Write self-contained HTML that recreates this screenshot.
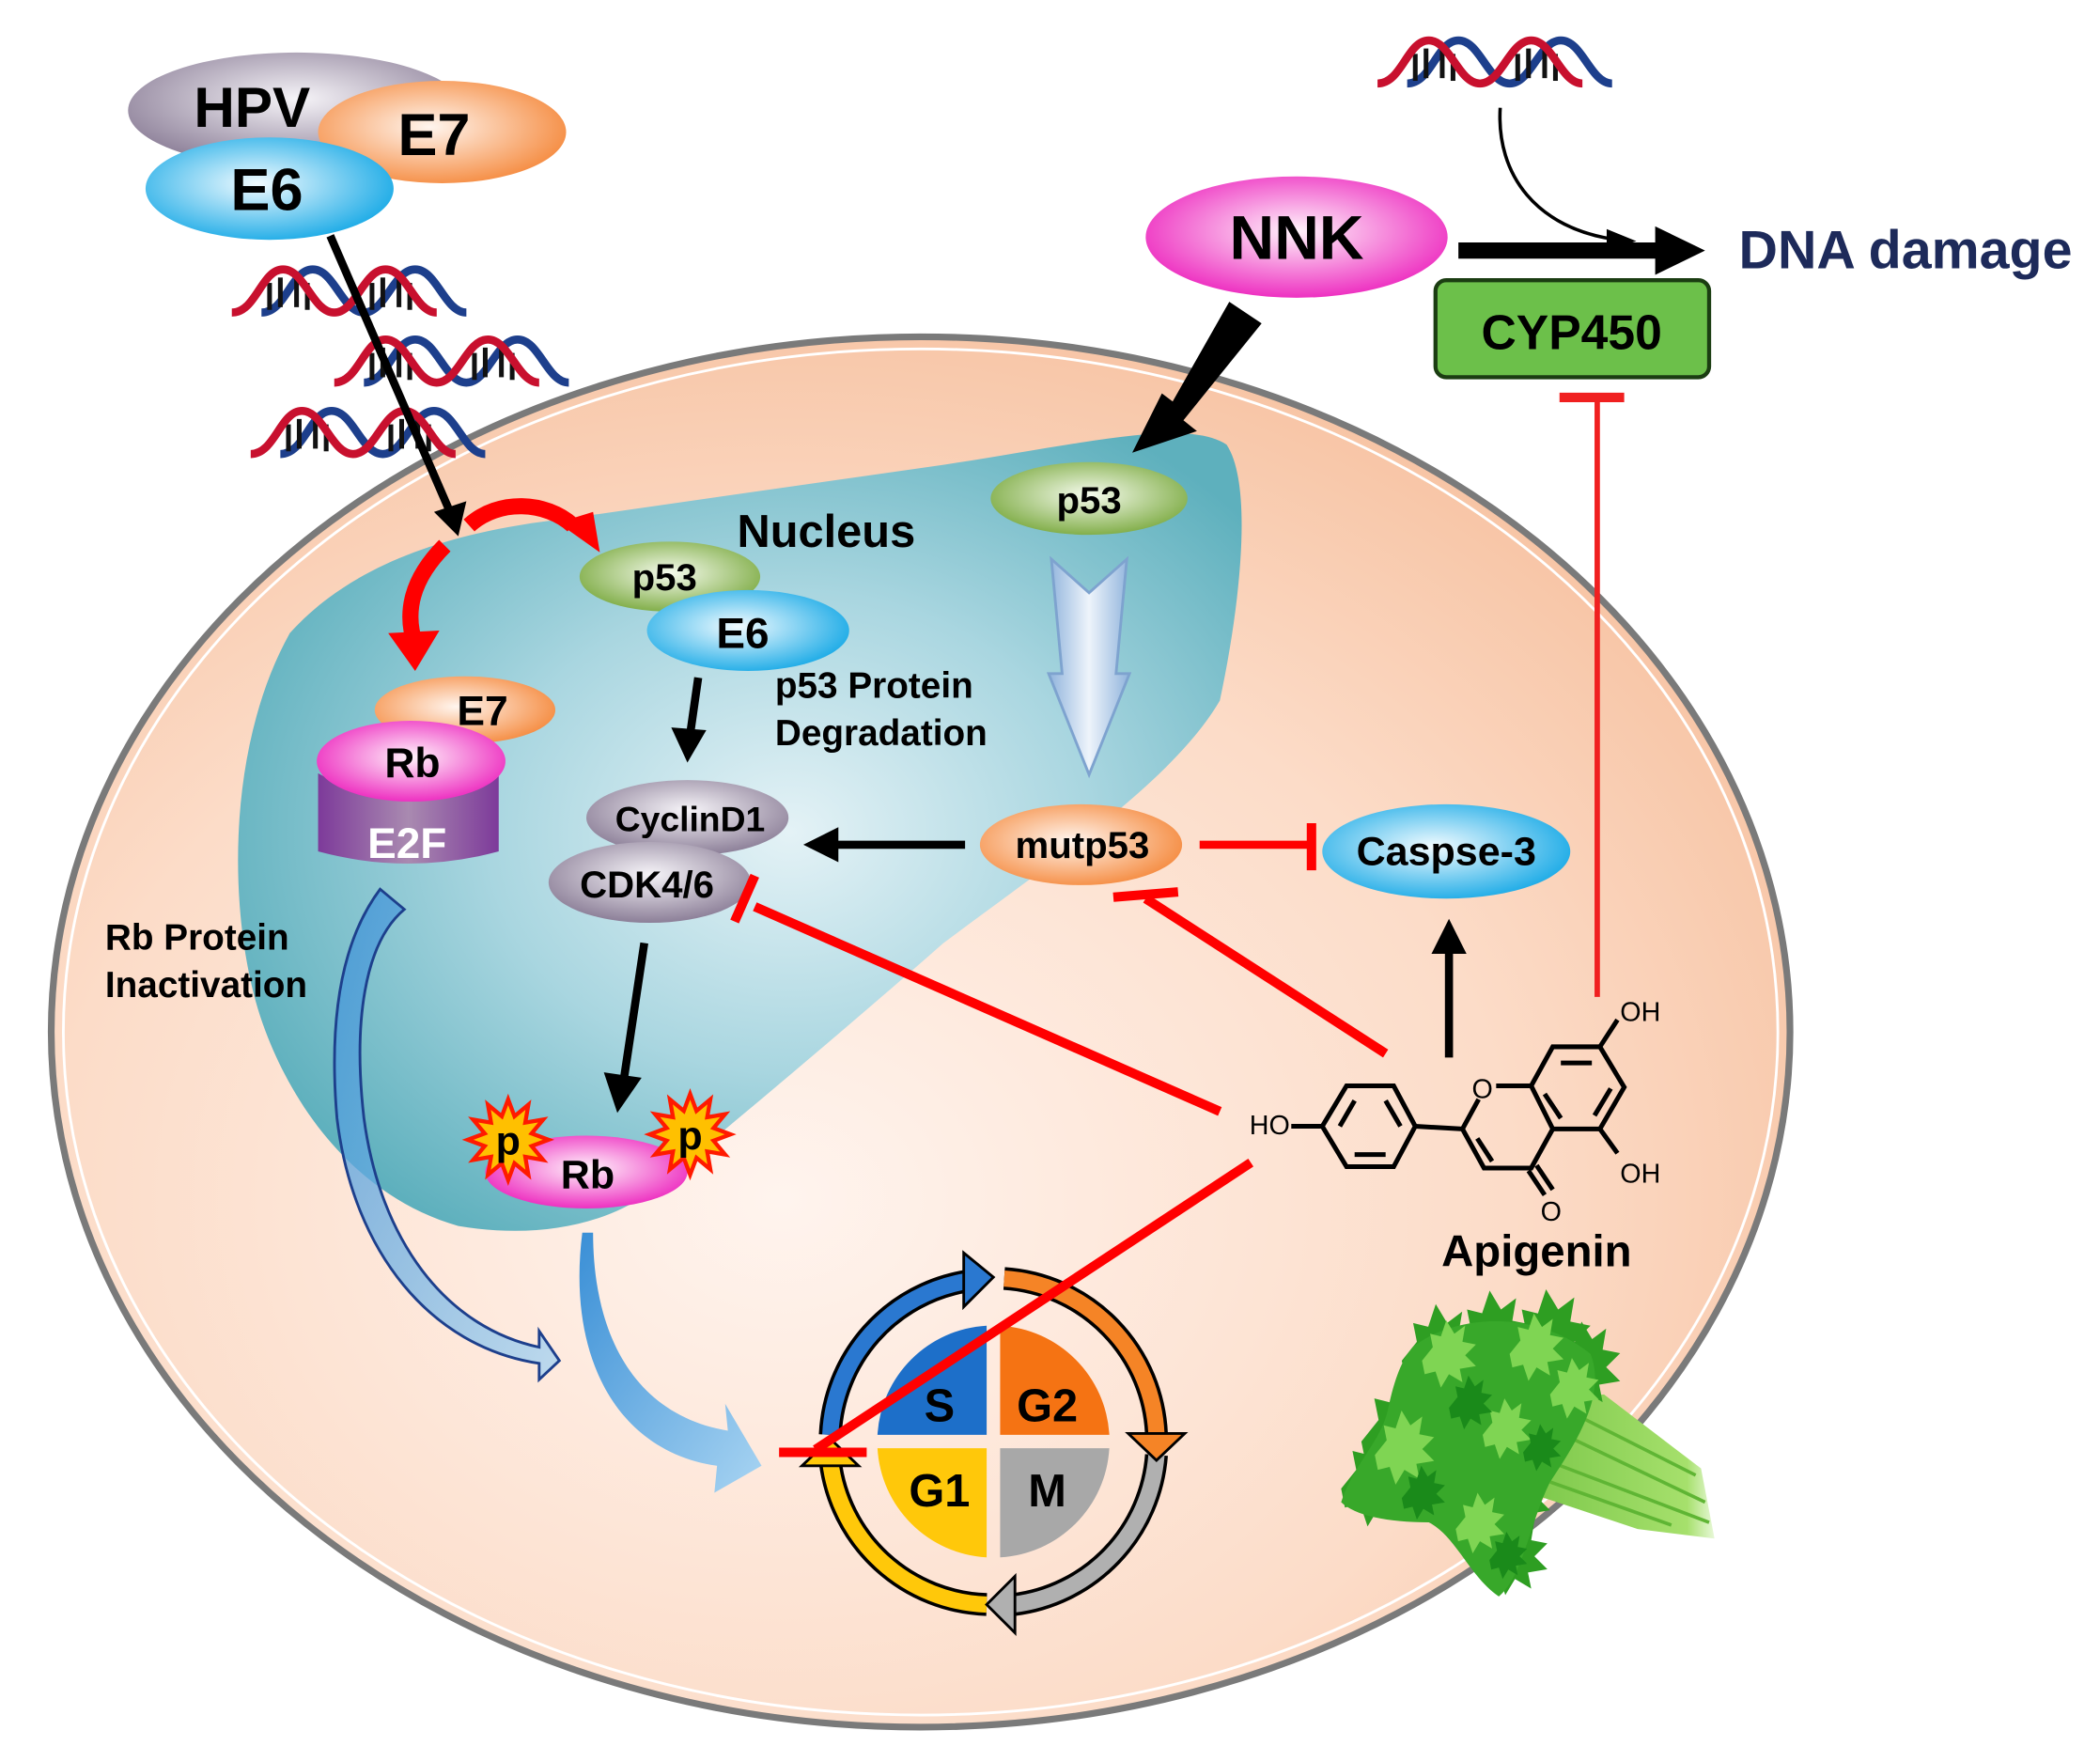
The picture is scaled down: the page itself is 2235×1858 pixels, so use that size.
<!DOCTYPE html>
<html><head><meta charset="utf-8"><style>
html,body{margin:0;padding:0;background:#fff;}
svg{display:block;}
text{font-family:"Liberation Sans",Arial,sans-serif;font-weight:bold;}
</style></head><body>
<svg width="2235" height="1858" viewBox="0 0 1558 1296" preserveAspectRatio="none" xmlns="http://www.w3.org/2000/svg">
<defs>
<radialGradient id="cell" cx="0.42" cy="0.62" r="0.7">
<stop offset="0" stop-color="#fff4ee"/><stop offset="0.6" stop-color="#fcdcc8"/><stop offset="1" stop-color="#f6bf9d"/></radialGradient>
<radialGradient id="nuc" cx="0.55" cy="0.5" r="0.6">
<stop offset="0" stop-color="#e4f2f6"/><stop offset="0.5" stop-color="#a9d6e0"/><stop offset="1" stop-color="#5eb0bd"/></radialGradient>
<radialGradient id="gpur" cx="0.5" cy="0.4" r="0.6"><stop offset="0" stop-color="#f6f4f8"/><stop offset="1" stop-color="#8c7f98"/></radialGradient>
<radialGradient id="gora" cx="0.45" cy="0.45" r="0.6"><stop offset="0" stop-color="#fff5ee"/><stop offset="1" stop-color="#f58a3e"/></radialGradient>
<radialGradient id="gcya" cx="0.45" cy="0.45" r="0.6"><stop offset="0" stop-color="#f2fbff"/><stop offset="1" stop-color="#17a9e6"/></radialGradient>
<radialGradient id="ggre" cx="0.5" cy="0.45" r="0.6"><stop offset="0" stop-color="#f6fbee"/><stop offset="1" stop-color="#78a83c"/></radialGradient>
<radialGradient id="gmag" cx="0.5" cy="0.45" r="0.6"><stop offset="0" stop-color="#fff4fb"/><stop offset="1" stop-color="#ec1fbc"/></radialGradient>
<linearGradient id="gcyl" x1="0" x2="1"><stop offset="0" stop-color="#7d3a9a"/><stop offset="0.5" stop-color="#a98ab0"/><stop offset="1" stop-color="#7d3a9a"/></linearGradient>
<linearGradient id="gblue" x1="0" y1="0" x2="1" y2="1"><stop offset="0" stop-color="#3a8fd6"/><stop offset="1" stop-color="#a8d4f2"/></linearGradient>
<linearGradient id="gdown" x1="0" x2="1"><stop offset="0" stop-color="#8fb3dc"/><stop offset="0.5" stop-color="#eef4fb"/><stop offset="1" stop-color="#8fb3dc"/></linearGradient>
<linearGradient id="gstalk" x1="0" y1="0" x2="1" y2="0"><stop offset="0" stop-color="#7cc84a"/><stop offset="0.85" stop-color="#a6e06c"/><stop offset="1" stop-color="#e8f8d8"/></linearGradient>
<g id="dna">
<path d="M0,34 C18,34 22,2 38,2 C54,2 60,34 76,34 C92,34 98,2 114,2 C130,2 136,34 152,34" fill="none" stroke="#1d3f8c" stroke-width="6" transform="translate(22,0)"/>
<g stroke="#111" stroke-width="3.5"><line x1="28" y1="12" x2="28" y2="32"/><line x1="36" y1="8" x2="36" y2="30"/><line x1="48" y1="8" x2="48" y2="30"/><line x1="56" y1="12" x2="56" y2="32"/><line x1="104" y1="12" x2="104" y2="32"/><line x1="112" y1="8" x2="112" y2="30"/><line x1="124" y1="8" x2="124" y2="30"/><line x1="132" y1="12" x2="132" y2="32"/></g>
<path d="M0,34 C18,34 22,2 38,2 C54,2 60,34 76,34 C92,34 98,2 114,2 C130,2 136,34 152,34" fill="none" stroke="#c8102e" stroke-width="6"/>
</g>
<polygon id="star" points="30,0 17.4,4.7 26,15 12.7,12.7 15,26 4.7,17.4 0,30 -4.7,17.4 -15,26 -12.7,12.7 -26,15 -17.4,4.7 -30,0 -17.4,-4.7 -26,-15 -12.7,-12.7 -15,-26 -4.7,-17.4 0,-30 4.7,-17.4 15,-26 12.7,-12.7 26,-15 17.4,-4.7" fill="#ffc000" stroke="#ff1a00" stroke-width="3"/>
<polygon id="leaf" points="0,0 8,-10 6,-20 14,-18 18,-30 24,-20 32,-26 30,-14 40,-12 32,-4 40,4 28,6 30,16 20,10 14,20 10,8 2,10"/>
</defs>

<ellipse cx="683" cy="766" rx="645" ry="516" fill="url(#cell)" stroke="#7a7a7a" stroke-width="5"/>
<ellipse cx="683" cy="766" rx="636" ry="507" fill="none" stroke="#fff" stroke-width="2"/>

<path d="M215,470 C260,420 330,395 420,385 L700,345 C800,330 880,310 910,330 C930,360 920,450 905,520 C870,580 780,640 700,700 C620,770 560,820 500,870 C460,910 400,920 340,910 C270,890 220,830 195,760 C170,690 165,560 215,470 Z" fill="url(#nuc)"/>

<use href="#dna" x="172" y="198"/>
<use href="#dna" x="248" y="250"/>
<use href="#dna" x="186" y="303"/>
<use href="#dna" x="1022" y="28"/>

<ellipse cx="220" cy="82" rx="125" ry="43" fill="url(#gpur)"/>
<text x="187" y="94" font-size="42" text-anchor="middle">HPV</text>
<ellipse cx="328" cy="98" rx="92" ry="38" fill="url(#gora)"/>
<text x="322" y="115" font-size="44" text-anchor="middle">E7</text>
<ellipse cx="200" cy="140" rx="92" ry="38" fill="url(#gcya)"/>
<text x="198" y="156" font-size="44" text-anchor="middle">E6</text>

<line x1="245" y1="175" x2="333" y2="378" stroke="#000" stroke-width="6"/>
<polygon points="322,380 346,372 340,398" fill="#000"/>

<path d="M348,390 C370,370 405,372 425,390" fill="none" stroke="#f00" stroke-width="12"/>
<polygon points="414,388 440,380 445,410" fill="#f00"/>
<path d="M330,405 C305,430 300,455 308,478" fill="none" stroke="#f00" stroke-width="12"/>
<polygon points="288,470 326,468 308,498" fill="#f00"/>

<text x="613" y="406" font-size="34" text-anchor="middle">Nucleus</text>

<ellipse cx="497" cy="428" rx="67" ry="26" fill="url(#ggre)"/>
<text x="493" y="438" font-size="28" text-anchor="middle">p53</text>
<ellipse cx="555" cy="468" rx="75" ry="30" fill="url(#gcya)"/>
<text x="551" y="481" font-size="32" text-anchor="middle">E6</text>
<text x="575" y="518" font-size="27">p53 Protein</text>
<text x="575" y="553" font-size="27">Degradation</text>
<line x1="518" y1="503" x2="512" y2="545" stroke="#000" stroke-width="6"/>
<polygon points="498,540 524,542 510,566" fill="#000"/>

<path d="M236,574 Q303,612 370,574 L370,632 Q303,650 236,632 Z" fill="url(#gcyl)"/>
<text x="302" y="637" font-size="32" fill="#fff" text-anchor="middle">E2F</text>
<ellipse cx="345" cy="527" rx="67" ry="25" fill="url(#gora)"/>
<text x="358" y="538" font-size="31" text-anchor="middle">E7</text>
<ellipse cx="305" cy="565" rx="70" ry="30" fill="url(#gmag)"/>
<text x="306" y="577" font-size="31" text-anchor="middle">Rb</text>

<text x="78" y="705" font-size="27">Rb Protein</text>
<text x="78" y="740" font-size="27">Inactivation</text>

<path d="M282,660 L300,675 C270,700 262,760 270,830 C282,920 330,985 400,1000 L400,988 L415,1010 L400,1024 L400,1012 C320,1000 262,930 250,830 C244,760 252,700 282,660 Z" fill="url(#gblue)" fill-opacity="0.75" stroke="#1d3f8c" stroke-width="2"/>

<ellipse cx="510" cy="607" rx="75" ry="28" fill="url(#gpur)"/>
<text x="512" y="617" font-size="26" text-anchor="middle">CyclinD1</text>
<ellipse cx="482" cy="655" rx="75" ry="30" fill="url(#gpur)"/>
<text x="480" y="666" font-size="28" text-anchor="middle">CDK4/6</text>

<line x1="716" y1="627" x2="620" y2="627" stroke="#000" stroke-width="6"/>
<polygon points="622,614 596,627 622,640" fill="#000"/>
<line x1="478" y1="700" x2="463" y2="800" stroke="#000" stroke-width="6"/>
<polygon points="448,796 476,800 458,826" fill="#000"/>

<path d="M432,915 L440,915 C440,990 470,1050 540,1062 L538,1042 L565,1088 L530,1108 L532,1088 C460,1078 420,1010 432,915 Z" fill="url(#gblue)"/>

<ellipse cx="435" cy="870" rx="75" ry="27" fill="url(#gmag)"/>
<text x="436" y="882" font-size="30" text-anchor="middle">Rb</text>
<use href="#star" x="377" y="846"/>
<text x="377" y="857" font-size="30" text-anchor="middle">p</text>
<use href="#star" x="512" y="842"/>
<text x="512" y="853" font-size="30" text-anchor="middle">p</text>

<ellipse cx="962" cy="176" rx="112" ry="45" fill="url(#gmag)"/>
<text x="962" y="192" font-size="46" text-anchor="middle">NNK</text>
<polygon points="912,224 936,240 878,312 888,320 840,336 862,292 870,298" fill="#000"/>
<line x1="1082" y1="186" x2="1235" y2="186" stroke="#000" stroke-width="12"/>
<polygon points="1228,168 1265,186 1228,204" fill="#000"/>
<path d="M1113,80 C1110,130 1140,170 1200,178" fill="none" stroke="#000" stroke-width="2.5"/>
<polygon points="1192,170 1214,179 1192,186" fill="#000"/>
<text x="1290" y="199" font-size="40" fill="#1d2a5a">DNA damage</text>
<rect x="1065" y="208" width="203" height="72" rx="8" fill="#6cc04a" stroke="#1b3d12" stroke-width="3"/>
<text x="1166" y="259" font-size="36" text-anchor="middle">CYP450</text>

<ellipse cx="808" cy="370" rx="73" ry="27" fill="url(#ggre)"/>
<text x="808" y="381" font-size="28" text-anchor="middle">p53</text>
<path d="M780,415 L808,440 L836,415 L828,500 L838,500 L808,575 L778,500 L788,500 Z" fill="url(#gdown)" stroke="#7ea3cf" stroke-width="2"/>

<ellipse cx="802" cy="627" rx="75" ry="30" fill="url(#gora)"/>
<text x="803" y="637" font-size="28" text-anchor="middle">mutp53</text>

<line x1="890" y1="627" x2="972" y2="627" stroke="#f00" stroke-width="6"/>
<line x1="973" y1="611" x2="973" y2="646" stroke="#f00" stroke-width="7"/>
<ellipse cx="1073" cy="632" rx="92" ry="35" fill="url(#gcya)"/>
<text x="1073" y="642" font-size="30" text-anchor="middle">Caspse-3</text>
<line x1="1075" y1="785" x2="1075" y2="705" stroke="#000" stroke-width="6"/>
<polygon points="1062,708 1075,682 1088,708" fill="#000"/>

<line x1="1185" y1="740" x2="1185" y2="295" stroke="#f02020" stroke-width="4"/>
<line x1="1157" y1="295" x2="1205" y2="295" stroke="#f02020" stroke-width="7"/>
<line x1="905" y1="825" x2="560" y2="673" stroke="#f00" stroke-width="7"/>
<line x1="545" y1="684" x2="560" y2="650" stroke="#f00" stroke-width="7"/>
<line x1="1028" y1="782" x2="850" y2="667" stroke="#f00" stroke-width="7"/>
<line x1="826" y1="666" x2="874" y2="662" stroke="#f00" stroke-width="7"/>

<g transform="translate(737,1070)">
<path d="M-5,-5 L-5,-86 A86,86 0 0 0 -86,-5 Z" fill="#1d6fc9"/>
<path d="M5,-5 L86,-5 A86,86 0 0 0 5,-86 Z" fill="#f57313"/>
<path d="M-5,5 L-86,5 A86,86 0 0 0 -5,86 Z" fill="#ffc80a"/>
<path d="M5,5 L5,86 A86,86 0 0 0 86,5 Z" fill="#a8a8a8"/>
<text x="-40" y="-15" font-size="34" text-anchor="middle">S</text>
<text x="40" y="-15" font-size="34" text-anchor="middle">G2</text>
<text x="-40" y="48" font-size="34" text-anchor="middle">G1</text>
<text x="40" y="48" font-size="34" text-anchor="middle">M</text>
<g fill="none" stroke="#000" stroke-width="17">
<path d="M-121,-5 A121,121 0 0 1 -20,-119"/>
<path d="M8,-121 A121,121 0 0 1 121,-5"/>
<path d="M121,10 A121,121 0 0 1 15,121"/>
<path d="M-5,121 A121,121 0 0 1 -121,15"/>
</g>
<g fill="none" stroke-width="12">
<path d="M-121,-5 A121,121 0 0 1 -20,-119" stroke="#2a78d0"/>
<path d="M8,-121 A121,121 0 0 1 121,-5" stroke="#f58426"/>
<path d="M121,10 A121,121 0 0 1 15,121" stroke="#b0b0b0"/>
<path d="M-5,121 A121,121 0 0 1 -121,15" stroke="#ffc80a"/>
</g>
<polygon points="-22,-140 0,-122 -22,-100" fill="#2a78d0" stroke="#000" stroke-width="2"/>
<polygon points="100,-6 142,-6 121,14" fill="#f58426" stroke="#000" stroke-width="2"/>
<polygon points="16,100 -5,121 16,142" fill="#b0b0b0" stroke="#000" stroke-width="2"/>
<polygon points="-142,18 -121,-2 -100,18" fill="#ffc80a" stroke="#000" stroke-width="2"/>
</g>
<line x1="928" y1="863" x2="605" y2="1076" stroke="#f00" stroke-width="7"/>
<line x1="578" y1="1078" x2="643" y2="1078" stroke="#f00" stroke-width="7"/>

<g fill="none" stroke="#000" stroke-width="3.5">
<polygon points="981,836 999,806 1034,806 1050,836 1034,866 999,866"/>
<line x1="1005" y1="817" x2="994" y2="836"/><line x1="1028" y1="817" x2="1039" y2="836"/><line x1="1005" y1="857" x2="1028" y2="857"/>
<line x1="958" y1="836" x2="981" y2="836"/>
<line x1="1050" y1="836" x2="1085" y2="838"/>
<polyline points="1085,838 1097,816"/>
<line x1="1110" y1="806" x2="1136" y2="806"/>
<polyline points="1085,838 1101,867 1136,867 1152,838 1136,806"/>
<line x1="1096" y1="845" x2="1107" y2="862"/>
<polyline points="1136,806 1152,777 1187,777 1205,807 1187,838 1152,838"/>
<line x1="1158" y1="789" x2="1181" y2="789"/><line x1="1195" y1="808" x2="1183" y2="828"/><line x1="1146" y1="812" x2="1158" y2="830"/>
<line x1="1187" y1="777" x2="1200" y2="757"/>
<line x1="1187" y1="838" x2="1200" y2="856"/>
<line x1="1134" y1="869" x2="1146" y2="887"/><line x1="1140" y1="865" x2="1152" y2="883"/>
</g>
<g font-size="20">
<text x="927" y="842" style="font-weight:normal">HO</text>
<text x="1092" y="815" style="font-weight:normal">O</text>
<text x="1202" y="758" style="font-weight:normal">OH</text>
<text x="1202" y="878" style="font-weight:normal">OH</text>
<text x="1143" y="906" style="font-weight:normal">O</text>
</g>

<!-- celery -->
<g>
<path d="M1135,1040 L1190,1035 L1262,1090 L1272,1142 L1215,1135 L1140,1110 Z" fill="url(#gstalk)"/>
<g stroke="#5fb534" stroke-width="2.5" fill="none"><path d="M1150,1060 L1265,1115"/><path d="M1150,1085 L1268,1130"/><path d="M1165,1048 L1258,1095"/><path d="M1150,1100 L1240,1132"/></g>
<g fill="#2e9e22">
<use href="#leaf" transform="translate(1040,1010) scale(1.4)"/>
<use href="#leaf" transform="translate(1080,1000) scale(1.4)"/>
<use href="#leaf" transform="translate(1120,1002) scale(1.5)"/>
<use href="#leaf" transform="translate(1150,1020) scale(1.3)"/>
<use href="#leaf" transform="translate(1010,1070) scale(1.6)"/>
<use href="#leaf" transform="translate(995,1105) scale(1.4)"/>
<use href="#leaf" transform="translate(1060,1050) scale(1.6)"/>
<use href="#leaf" transform="translate(1090,1115) scale(1.5)"/>
<use href="#leaf" transform="translate(1100,1160) scale(1.2)"/>
</g>
<path d="M1048,1000 C1080,975 1140,972 1180,1005 C1192,1035 1170,1070 1150,1100 C1135,1130 1130,1170 1112,1185 C1090,1170 1080,1140 1060,1130 C1030,1130 1005,1125 995,1115 C1005,1085 1025,1070 1030,1045 C1035,1022 1040,1010 1048,1000 Z" fill="#38a82a"/>
<g fill="#7fd553">
<use href="#leaf" transform="translate(1055,1010) scale(1)"/>
<use href="#leaf" transform="translate(1120,1005) scale(1)"/>
<use href="#leaf" transform="translate(1020,1080) scale(1.1)"/>
<use href="#leaf" transform="translate(1100,1065) scale(0.9)"/>
<use href="#leaf" transform="translate(1150,1035) scale(0.9)"/>
<use href="#leaf" transform="translate(1080,1135) scale(0.9)"/>
</g>
<g fill="#1a8a1a">
<use href="#leaf" transform="translate(1075,1045) scale(0.8)"/>
<use href="#leaf" transform="translate(1040,1112) scale(0.8)"/>
<use href="#leaf" transform="translate(1130,1078) scale(0.7)"/>
<use href="#leaf" transform="translate(1105,1158) scale(0.7)"/>
</g>
</g>
<text x="1140" y="940" font-size="33" text-anchor="middle">Apigenin</text>
</svg>
</body></html>
